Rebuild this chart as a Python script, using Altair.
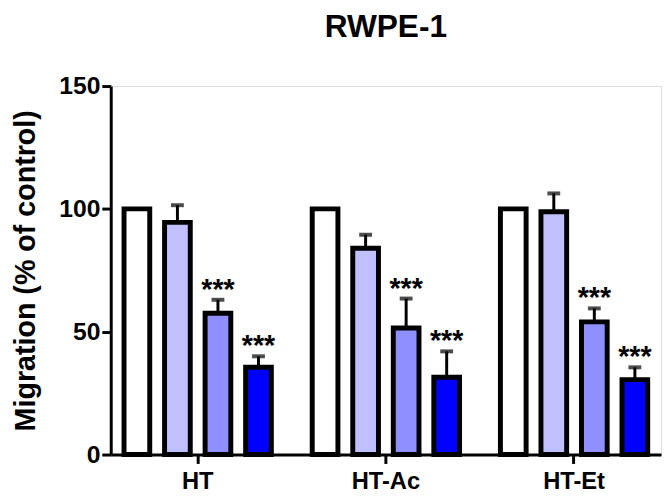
import altair as alt
import pandas as pd

groups = ["HT", "HT-Ac", "HT-Et"]
series = ["Control", "Dose 1", "Dose 2", "Dose 3"]
colors = ["#FFFFFF", "#C0C0FF", "#8F8FFF", "#0000FF"]

means_ht = [100, 94.5, 57.5, 35.5]
means_htac = [100, 84, 51.5, 31.5]
means_htet = [100, 98.8, 54, 30.5]
errs_ht = [0, 7, 5.5, 4.5]
errs_htac = [0, 5.5, 12, 10.5]
errs_htet = [0, 7.5, 5.5, 5]
sig_ht = ["", "", "***", "***"]
sig_htac = ["", "", "***", "***"]
sig_htet = ["", "", "***", "***"]

rows = []
for g, ms, es, ss in zip(groups, [means_ht, means_htac, means_htet],
                         [errs_ht, errs_htac, errs_htet],
                         [sig_ht, sig_htac, sig_htet]):
    for s, m, e, sg in zip(series, ms, es, ss):
        rows.append({"group": g, "series": s, "mean": m, "err": e,
                     "top": m + e, "sig": sg})
df = pd.DataFrame(rows)

FONT = "Liberation Sans"

x = alt.X("group:N", sort=groups, title=None,
          scale=alt.Scale(paddingInner=0.076, paddingOuter=0),
          axis=alt.Axis(labelAngle=0, labelFont=FONT, labelFontSize=24,
                        labelFontWeight="bold", labelColor="black",
                        domainColor="black", domainWidth=3,
                        tickColor="black", tickWidth=3, tickSize=9,
                        labelPadding=6))
xo = alt.XOffset("series:N", sort=series,
                 scale=alt.Scale(paddingInner=0.366, paddingOuter=0.328))
yscale = alt.Scale(domain=[0, 150], nice=False)

base = alt.Chart(df)

bars = base.mark_bar(stroke="black", strokeWidth=5).encode(
    x=x, xOffset=xo,
    y=alt.Y("mean:Q", scale=yscale, title="Migration (% of control)",
            axis=alt.Axis(values=[0, 50, 100, 150], labelFont=FONT,
                          labelFontSize=25, labelFontWeight="bold",
                          labelColor="black", domainColor="black",
                          domainWidth=3, tickColor="black", tickWidth=3,
                          tickSize=9, labelPadding=2, grid=False,
                          titleFont=FONT, titleFontSize=29,
                          titleFontWeight="bold", titleColor="black",
                          titlePadding=18)),
    color=alt.Color("series:N", sort=series,
                    scale=alt.Scale(domain=series, range=colors), legend=None),
)

err_df = df[df["err"] > 0]
stems = alt.Chart(err_df).mark_rule(color="black", strokeWidth=3).encode(
    x=x, xOffset=xo, y=alt.Y("mean:Q", scale=yscale), y2="top:Q")
caps = alt.Chart(err_df).mark_tick(color="black", size=13, thickness=4).encode(
    x=x, xOffset=xo, y=alt.Y("top:Q", scale=yscale))
stars = alt.Chart(df[df["sig"] != ""]).mark_text(
    font=FONT, fontSize=29, fontWeight="bold", color="black",
    baseline="alphabetic", dy=-1
).encode(x=x, xOffset=xo, y=alt.Y("top:Q", scale=yscale), text="sig:N")

chart = alt.layer(bars, stems, caps, stars).properties(
    width=557, height=373,
    title=alt.TitleParams("RWPE-1", font=FONT, fontSize=32, fontWeight="bold",
                          color="black", anchor="middle", offset=31),
    autosize=alt.AutoSizeParams(type="none"),
    padding={"left": 104, "top": 76, "right": 1, "bottom": 44},
).configure_view(stroke=None).configure(background="white")

chart.save("out.html", embed_options={"renderer": "svg", "actions": False})
